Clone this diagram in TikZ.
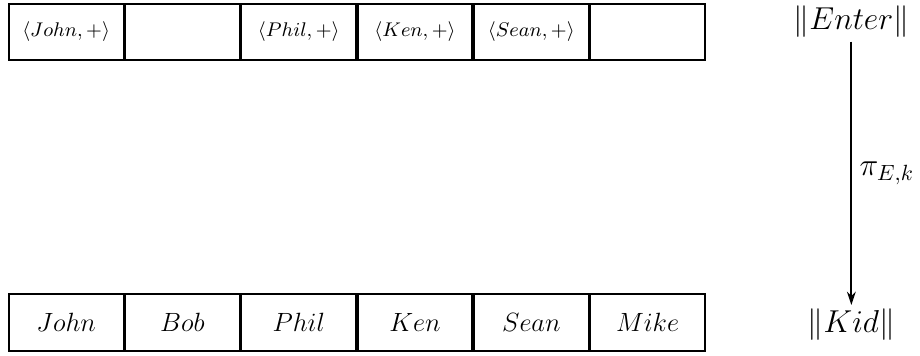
\documentclass[tikz,border=0pt]{standalone}
\usetikzlibrary{arrows.meta}
\tikzset{
    cell/.style={draw,thick,minimum width=52.06pt,minimum height=25.6pt,inner sep=0pt},
    setname/.style={font=\Large,inner sep=1.5pt}
}
\begin{document}
\begin{tikzpicture}[x=1pt,y=1pt]
\useasboundingbox (0,0) rectangle (418.2,-161.8);
\foreach \x/\xtext in {0/{\langle John,+\rangle},1/{},2/{\langle Phil,+\rangle},3/{\langle Ken,+\rangle},4/{\langle Sean,+\rangle},5/{}}
{
    \node[cell,font=\small] (e\x) at (30.07+52.86*\x,-14.55){$\xtext$};
}
\foreach \x/\xtext in {0/John,1/Bob,2/Phil,3/Ken,4/Sean,5/Mike}
{
    \node[cell,font=\large] (k\x) at (30.07+52.86*\x,-146.6){$\xtext$};
}
\node[setname] (enter) at (387,-10){$\|Enter\|$};
\node[setname] (kid) at (387,-147.5){$\|Kid\|$};
\draw[thick,-{Stealth[length=6pt,width=4pt]}] (enter) -- node[right,font=\Large]{$\pi_{E,k}$} (kid);
\end{tikzpicture}
\end{document}
